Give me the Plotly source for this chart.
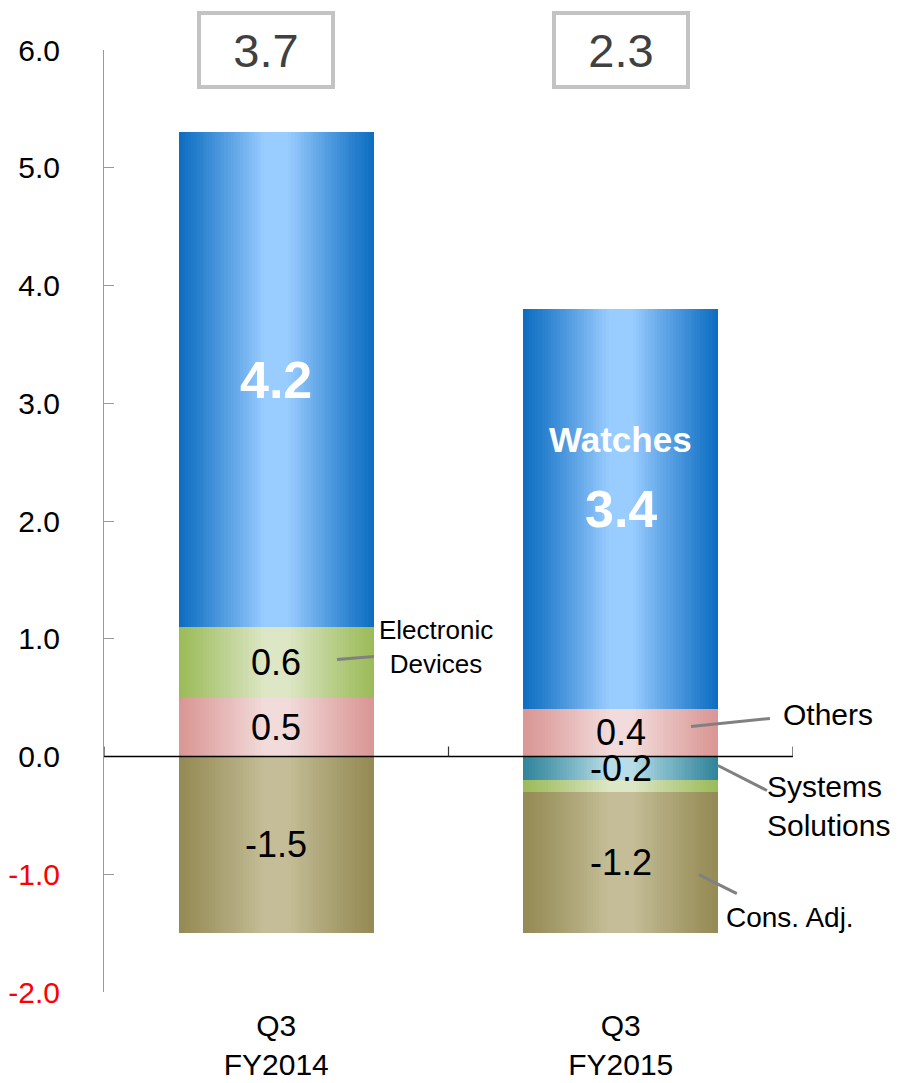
import numpy as np
import plotly.graph_objects as go

# ---- data (billions of yen) ----
categories = ["Q3<br>FY2014", "Q3<br>FY2015"]
others = [0.5, 0.4]
systems_solutions = [0.0, -0.2]
electronic_devices = [0.6, -0.1]
watches = [4.2, 3.4]
cons_adj = [-1.5, -1.2]
totals = [3.7, 2.3]

y_tick_values = [-2, -1, 0, 1, 2, 3, 4, 5, 6]

# segment order = stacking order away from zero
segments = [
    ("Others", others, "#d99694", "#f2dcdb"),
    ("Systems Solutions", systems_solutions, "#31849b", "#b7dee8"),
    ("Electronic Devices", electronic_devices, "#9bbb59", "#dde7c6"),
    ("Watches", watches, "#0d6dc2", "#99ccff"),
    ("Cons. Adj.", cons_adj, "#948a54", "#c4bd97"),
]

BAR_W = 0.566
N_LAYERS = 32
FONT = "Liberation Sans, Arial, sans-serif"


def hex_to_rgb(h):
    h = h.lstrip("#")
    return np.array([int(h[i:i + 2], 16) for i in (0, 2, 4)], dtype=float)


def mix(edge, center, t):
    c = hex_to_rgb(edge) * (1 - t) + hex_to_rgb(center) * t
    return "rgb(%d,%d,%d)" % tuple(np.round(c).astype(int))


x = np.arange(len(categories))
pos_base = np.zeros(len(categories))
neg_base = np.zeros(len(categories))

fig = go.Figure()
label_specs = []

for name, vals, edge, center in segments:
    v = np.array(vals, dtype=float)
    base = np.where(v >= 0, pos_base, neg_base)
    # concentric layers give a horizontal shading: dark edges, light middle
    for k in range(N_LAYERS):
        frac = 1 - k / N_LAYERS
        d = frac - 0.5 / N_LAYERS
        t = float(np.clip(1 - max(0.0, d - 0.12) / 0.88, 0, 1)) ** 1.1
        fig.add_trace(go.Bar(
            x=x, y=v, base=base, width=BAR_W * frac,
            marker=dict(color=mix(edge, center, t), line=dict(width=0)),
            hoverinfo="skip", showlegend=False, name=name,
        ))
    for i, val in enumerate(v):
        if abs(val) >= 0.2:
            label_specs.append((name, i, base[i] + val / 2, val))
    pos_base = pos_base + np.where(v > 0, v, 0)
    neg_base = neg_base + np.where(v < 0, v, 0)

annotations = []
for name, i, ymid, val in label_specs:
    if name == "Watches":
        annotations.append(dict(x=i, y=ymid, text="<b>%.1f</b>" % val, showarrow=False,
                                font=dict(size=52, color="white", family=FONT)))
        if i == 1:
            annotations.append(dict(x=i, y=ymid, yshift=70, text="<b>Watches</b>",
                                    showarrow=False,
                                    font=dict(size=35, color="white", family=FONT)))
    else:
        annotations.append(dict(x=i, y=ymid, text="%.1f" % val, showarrow=False,
                                font=dict(size=36, color="black", family=FONT)))

# totals in boxes above each bar
for i, tot in enumerate(totals):
    annotations.append(dict(
        x=i, y=6.0, xshift=-10 if i == 0 else 0, text="%.1f" % tot, showarrow=False,
        width=130, height=70, borderpad=0, borderwidth=4, bordercolor="#c3c3c3",
        bgcolor="white", font=dict(size=47, color="#404040", family=FONT),
    ))

# callout texts (x in paper units so labels beyond the last category stay visible)
callouts = [
    dict(x=0.4819, y=0.926, text="Electronic<br>Devices", size=26, xanchor="center"),
    dict(x=1.0508, y=0.357, text="Others", size=30, xanchor="center"),
    dict(x=0.9594, y=-0.42, text="Systems<br>Solutions", size=30, xanchor="left"),
    dict(x=0.9956, y=-1.368, text="Cons. Adj.", size=28, xanchor="center"),
]
for c in callouts:
    annotations.append(dict(xref="paper", x=c["x"], y=c["y"], text=c["text"], showarrow=False,
                            xanchor=c["xanchor"],
                            align="left" if c["xanchor"] == "left" else "center",
                            font=dict(size=c["size"], color="black", family=FONT)))

shapes = []
# leader lines
leaders = [
    (0.1764, 0.824, 0.2837, 0.850),
    (1.204, 0.255, 1.433, 0.323),
    (1.282, -0.0765, 1.4245, -0.289),
    (1.227, -1.0025, 1.337, -1.164),
]
for x0, y0, x1, y1 in leaders:
    shapes.append(dict(type="line", xref="x", yref="y", x0=x0, y0=y0, x1=x1, y1=y1,
                       line=dict(color="#808080", width=3), layer="above"))

# category axis drawn along zero
shapes.append(dict(type="line", xref="paper", yref="y", x0=0, x1=1, y0=0, y1=0,
                   line=dict(color="black", width=1.5), layer="above"))
for bx in (-0.5, 0.5, 1.5):
    shapes.append(dict(type="line", xref="x", yref="y", x0=bx, x1=bx, y0=0, y1=0.085,
                       line=dict(color="#333333", width=1.2), layer="above"))

tick_text = []
for v in y_tick_values:
    s = "%.1f" % v
    tick_text.append("<span style='color:#ff0000'>%s</span>" % s if v < 0 else s)

fig.update_layout(
    width=898, height=1083,
    margin=dict(l=104, r=105, t=50, b=91),
    paper_bgcolor="white", plot_bgcolor="white",
    barmode="overlay", bargap=0,
    showlegend=False,
    font=dict(family=FONT, color="black"),
    annotations=annotations, shapes=shapes,
    xaxis=dict(range=[-0.5, 1.5], tickvals=list(x), ticktext=categories,
               showgrid=False, zeroline=False, showline=False, ticks="",
               tickfont=dict(size=30, color="black"), ticklabelstandoff=13,
               automargin=False, fixedrange=True),
    yaxis=dict(range=[-2, 6], tickvals=y_tick_values, ticktext=tick_text,
               showgrid=False, zeroline=False, showline=True, linecolor="#999999",
               linewidth=1, ticks="inside", ticklen=10, tickcolor="#999999",
               tickfont=dict(size=30, color="black"), ticklabelstandoff=37,
               automargin=False, fixedrange=True),
)

fig.write_html("out.html")
